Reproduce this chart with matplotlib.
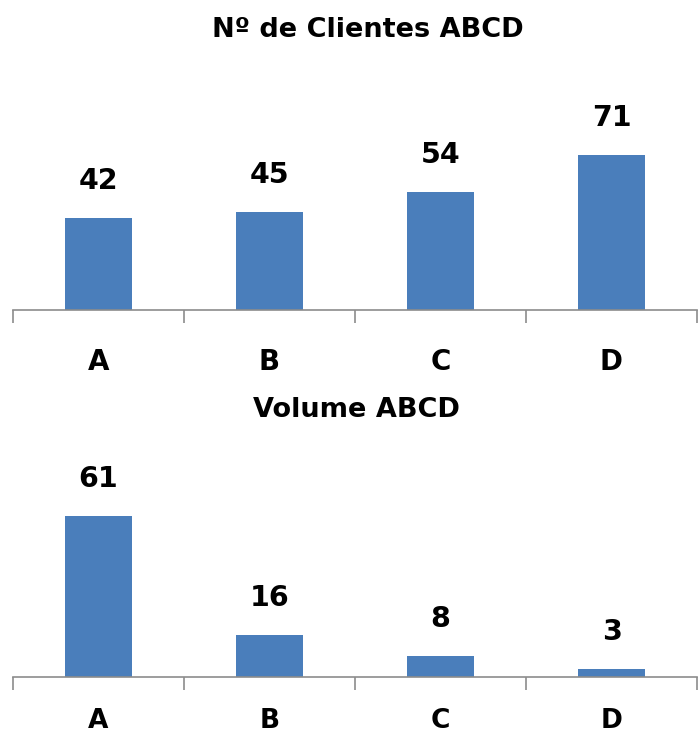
import matplotlib
matplotlib.use("Agg")
import matplotlib.pyplot as plt

categories = ["A", "B", "C", "D"]
clientes = [42, 45, 54, 71]
volume = [61, 16, 8, 3]
title_top = "Nº de Clientes ABCD"
title_bottom = "Volume ABCD"

bar_color = "#4A7EBB"
axis_color = "#8C8C8C"

fig = plt.figure(figsize=(7.0, 7.37), dpi=100)
W, H = 700, 737

def setup(ax, values, ymax, pad, label_off, tick_fs):
    x = range(len(categories))
    ax.bar(x, values, width=0.39, color=bar_color)
    ax.set_xlim(-0.5, len(categories) - 0.5)
    ax.set_ylim(0, ymax)
    for s in ["top", "right", "left"]:
        ax.spines[s].set_visible(False)
    ax.spines["bottom"].set_color(axis_color)
    ax.spines["bottom"].set_linewidth(1.2)
    ax.set_yticks([])
    ax.set_xticks(list(x))
    ax.set_xticklabels(categories, fontsize=tick_fs, fontweight="bold")
    ax.tick_params(axis="x", which="major", length=0, pad=pad)
    ax.set_xticks([i - 0.5 for i in range(len(categories) + 1)], minor=True)
    ax.tick_params(axis="x", which="minor", length=9, color=axis_color, width=1.2, direction="out")
    for i, v in enumerate(values):
        ax.annotate(str(v), (i, v), xytext=(0, label_off), textcoords="offset pixels",
                    ha="center", va="baseline", fontsize=20.5, fontweight="bold")

# top axes: baseline at y=310px
ax1 = fig.add_axes([13 / W, 1 - 310 / H, 684 / W, 0.237])
setup(ax1, clientes, 80, 27, 29, 20)
# bottom axes: baseline at y=677px
ax2 = fig.add_axes([13 / W, 1 - 677 / H, 684 / W, 0.2506])
setup(ax2, volume, 70, 22, 29, 19)

fig.text(368 / W, 1 - 37 / H, title_top, ha="center", va="baseline", fontsize=19.5, fontweight="bold")
fig.text(356 / W, 1 - 417 / H, title_bottom, ha="center", va="baseline", fontsize=19.5, fontweight="bold")

fig.savefig("out.png", dpi=100)
